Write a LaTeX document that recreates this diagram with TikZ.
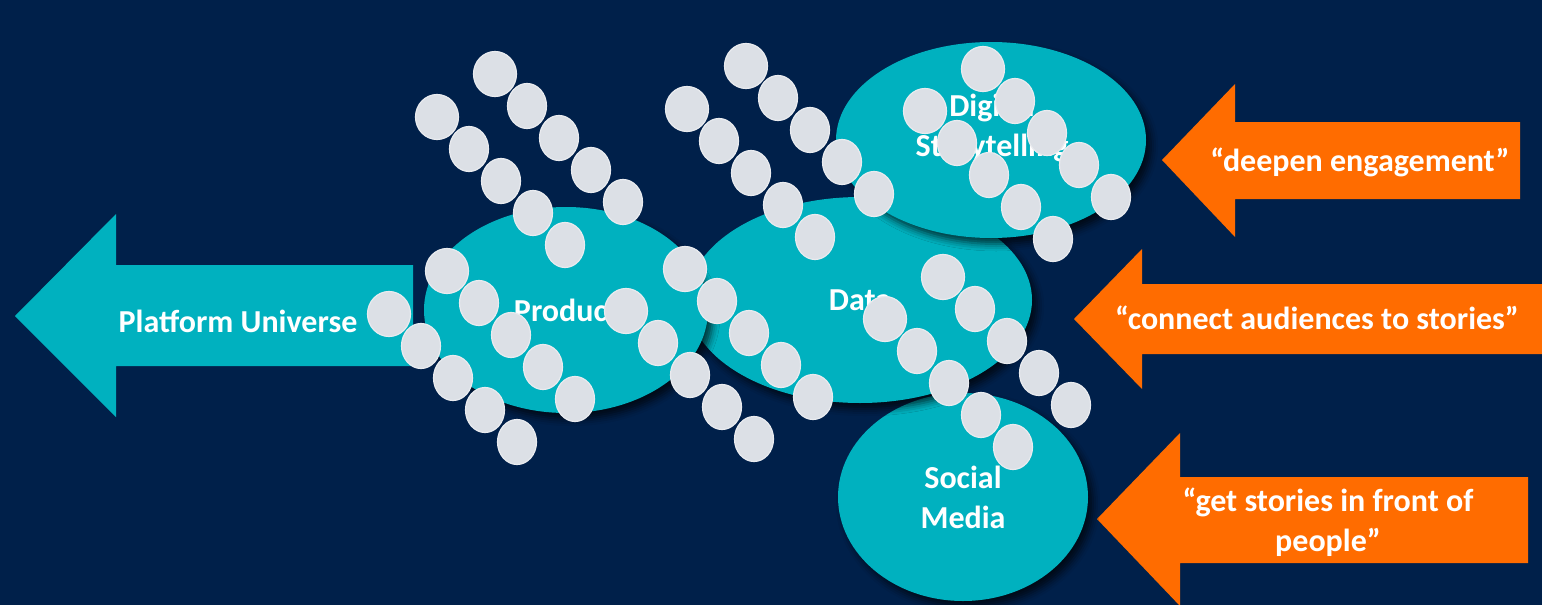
\documentclass[tikz,border=0pt]{standalone}
\usepackage{fontspec}
\setmainfont{Carlito}
\usetikzlibrary{shapes.geometric,shadows.blur}
\definecolor{navy}{HTML}{00204A}
\definecolor{blobteal}{HTML}{00B1BF}
\definecolor{pushorange}{HTML}{FF6C00}
\definecolor{beadgrey}{HTML}{DCE0E6}
\definecolor{beadedge}{HTML}{E9EBEF}
\tikzset{
  caption/.style={text=white, align=center, inner sep=0pt,
    font=\bfseries\fontsize{32}{40}\selectfont},
  blob/.style={ellipse, fill=blobteal, inner sep=0pt, caption,
    blur shadow={shadow xshift=5pt, shadow yshift=-6pt,
      shadow blur radius=7pt, shadow opacity=70}},
  bead/.style={fill=beadgrey, draw=beadedge, line width=1.2pt},
  outarrow/.style={fill=blobteal},
  inarrow/.style={fill=pushorange}
}
\begin{document}
\begin{tikzpicture}[x=1pt,y=-1pt]
\useasboundingbox (0,0) rectangle (1542,605);
\fill[navy] (0,0) rectangle (1542,605);
\fill[outarrow] (15,316) -- (116,214) -- (116,265) -- (413,265) -- (413,366)
  -- (116,366) -- (116,417) -- cycle;
\node[caption] (platform) at (238,321) {Platform Universe};
\fill[inarrow] (1162,160) -- (1235,84) -- (1235,122) -- (1520,122) -- (1520,199)
  -- (1235,199) -- (1235,237) -- cycle;
\node[caption] (deepen) at (1360,162) {“deepen engagement”};
\fill[inarrow] (1074,319) -- (1142,249) -- (1142,284) -- (1542,284) -- (1542,354)
  -- (1142,354) -- (1142,389) -- cycle;
\node[caption] (connect) at (1317,318) {“connect audiences to stories”};
\fill[inarrow] (1097,519) -- (1180,433) -- (1180,477) -- (1528,477) -- (1528,563)
  -- (1180,563) -- (1180,606) -- cycle;
\node[caption] (front) at (1328,522) {“get stories in front of\\people”};
\node[blob, minimum width=250pt, minimum height=208pt] (social) at (963,497) {Social\\Media};
\node[blob, minimum width=344pt, minimum height=206pt] (data) at (860,300) {Data};
\node[blob, minimum width=284pt, minimum height=206pt] (product) at (566,310) {Product};
\node[blob, minimum width=310pt, minimum height=196pt] (story) at (991,140) {};
\node[caption] (storytext) at (992,128) {Digital\\Storytelling};
\foreach \sx/\sy in {437/117, 495/74, 389/314, 447/271, 626/311, 685/269,
    687/109, 746/66, 885/319, 943/277, 925/111, 983/69}
  \foreach \n in {0,...,4}{
    \pgfmathsetmacro\rx{\n==0 ? 21.5 : 19.5}
    \path[bead] (\sx+32*\n,\sy+32*\n) ellipse [x radius=\rx, y radius=22.5];
  }
\end{tikzpicture}
\end{document}
